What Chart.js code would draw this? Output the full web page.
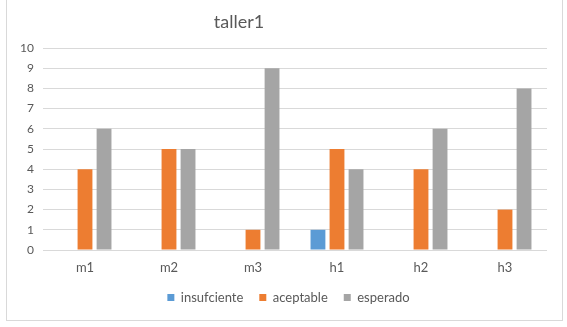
<!DOCTYPE html>
<html>
<head>
<meta charset="utf-8">
<script src="https://cdn.jsdelivr.net/npm/chart.js@4"></script>
<style>
    body { margin: 0; background: #fff; }
    #frame { position: absolute; left: 6px; top: -2px; width: 555px; height: 321px; border: 1px solid #d9d9d9; }
    #wrap { position: absolute; left: 0; top: 0; width: 567px; height: 327px; }
</style>
</head>
<body>
<div id="frame"></div>
<div id="wrap"><canvas id="tallerChart"></canvas></div>
<script>
const categories = ["m1", "m2", "m3", "h1", "h2", "h3"]
const insuficiente = [0, 0, 0, 1, 0, 0]
const aceptable = [4, 5, 1, 5, 4, 2]
const esperado = [6, 5, 9, 4, 6, 8]
const yTicks = [0, 10, 1]

const textColor = "#595959"
const fontFamily = "Lato, 'Open Sans', sans-serif"

// titulo desplazado como en Excel
const titlePlugin = {
    id: "tituloTaller",
    afterDraw(chart) {
        const ctx = chart.ctx
        ctx.save()
        ctx.font = "18px " + fontFamily
        ctx.fillStyle = textColor
        ctx.textAlign = "center"
        ctx.textBaseline = "middle"
        ctx.fillText("taller1", 239, 22)
        ctx.restore()
    }
}

function bars(label, data, color) {
    this.label = label
    this.data = data
    this.backgroundColor = color
    this.categoryPercentage = 0.68
    this.barPercentage = 0.78
}

new Chart(
    document.getElementById("tallerChart"),
    {
        type: "bar",
        data: {
            labels: categories,
            datasets: [
                new bars("insufciente", insuficiente, "#5B9BD5"),
                new bars("aceptable", aceptable, "#ED7D31"),
                new bars("esperado", esperado, "#A5A5A5")
            ]
        },
        options: {
            responsive: true,
            maintainAspectRatio: false,
            animation: false,
            layout: { padding: { top: 48, right: 0, left: 10, bottom: 13 } },
            plugins: {
                title: { display: false },
                tooltip: { enabled: false },
                legend: {
                    position: "bottom",
                    labels: {
                        boxWidth: 7,
                        boxHeight: 7,
                        color: textColor,
                        font: { family: fontFamily, size: 13 },
                        padding: 16
                    }
                }
            },
            scales: {
                x: {
                    grid: { display: false, drawTicks: false },
                    border: { display: false },
                    ticks: { color: textColor, font: { family: fontFamily, size: 13 }, padding: 10 },
                    afterFit: s => { s.height = 25 }
                },
                y: {
                    min: yTicks[0],
                    max: yTicks[1],
                    ticks: { stepSize: yTicks[2], color: textColor, font: { family: fontFamily, size: 12 }, padding: 9 },
                    grid: { color: "#d9d9d9", drawTicks: false },
                    border: { display: false },
                    afterFit: s => { s.width = 33 }
                },
                // eje vacio para dejar el margen derecho
                margen: {
                    position: "right",
                    grid: { display: false, drawTicks: false },
                    border: { display: false },
                    ticks: { display: false },
                    afterFit: s => { s.width = 20 }
                }
            }
        },
        plugins: [titlePlugin]
    }
)
</script>
</body>
</html>
